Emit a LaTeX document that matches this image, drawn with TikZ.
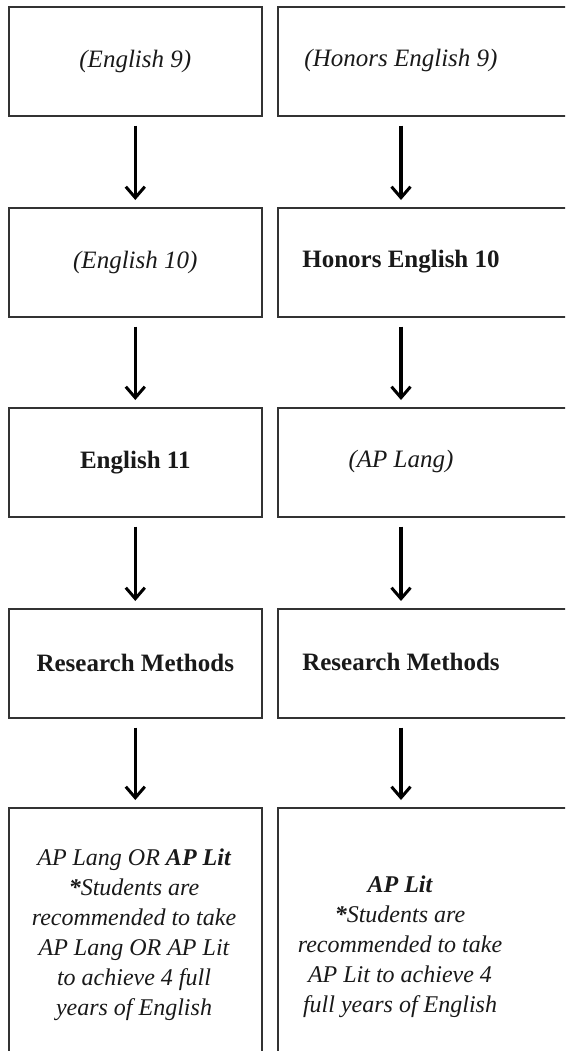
\documentclass[tikz,border=0pt]{standalone}
\usepackage{fontspec}
\setmainfont{Liberation Serif}
\usetikzlibrary{arrows.meta}
\begin{document}
\begin{tikzpicture}[x=1pt,y=-1pt,
  box/.style={draw=black!80, line width=1.6pt, minimum width=253pt, minimum height=109pt, inner sep=0pt, anchor=north west},
  rbox/.style={box, minimum width=310pt},
  tallbox/.style={minimum height=270pt},
  lbl/.style={font=\fontsize{25}{30}\selectfont, text=black!90, inner sep=0pt},
  note/.style={font=\fontsize{24}{30}\selectfont\itshape, text=black!90, align=center, inner sep=0pt, anchor=base},
  arr/.style={line width=3.2pt, -{Straight Barb[length=11pt,width=19pt,line width=3pt]}, shorten <=9pt, shorten >=7pt}]
\useasboundingbox (0,0) rectangle (565,1051);
\clip (0,0) rectangle (565,1051);
% left column boxes
\node[box] (l1) at (8,6) {};
\node[box] (l2) at (8,207) {};
\node[box] (l3) at (8,407) {};
\node[box] (l4) at (8,608) {};
\node[box,tallbox] (l5) at (8,807) {};
% right column boxes
\node[rbox] (r1) at (277,6) {};
\node[rbox] (r2) at (277,207) {};
\node[rbox] (r3) at (277,407) {};
\node[rbox] (r4) at (277,608) {};
\node[rbox,tallbox] (r5) at (277,807) {};
% texts
\node[lbl] (tl1) at (l1.center) {\itshape (English 9)};
\node[lbl] (tl2) at (l2.center) {\itshape (English 10)};
\node[lbl] (tl3) at (l3.center) {\bfseries English 11};
\node[lbl] (tl4) at (l4.center) {\bfseries Research Methods};
\node[lbl] (tr1) at (401,60.5) {\itshape (Honors English 9)};
\node[lbl] (tr2) at (401,261.5) {\bfseries Honors English 10};
\node[lbl] (tr3) at (401,461.5) {\itshape (AP Lang)};
\node[lbl] (tr4) at (401,662) {\bfseries Research Methods};
\node[note] (tl5) at (134,1015) {AP Lang OR \textbf{AP Lit}\\ \textbf{*}Students are\\ recommended to take\\ AP Lang OR AP Lit\\ to achieve 4 full\\ years of English};
\node[note] (tr5) at (400,1012) {\textbf{AP Lit}\\ \textbf{*}Students are\\ recommended to take\\ AP Lit to achieve 4\\ full years of English};
% arrows
\draw[arr] (l1.south) -- (l2.north);
\draw[arr] (l2.south) -- (l3.north);
\draw[arr] (l3.south) -- (l4.north);
\draw[arr] (l4.south) -- (l5.north);
\draw[arr] (tr1 |- r1.south) -- (tr1 |- r2.north);
\draw[arr] (tr1 |- r2.south) -- (tr1 |- r3.north);
\draw[arr] (tr1 |- r3.south) -- (tr1 |- r4.north);
\draw[arr] (tr1 |- r4.south) -- (tr1 |- r5.north);
\end{tikzpicture}
\end{document}
